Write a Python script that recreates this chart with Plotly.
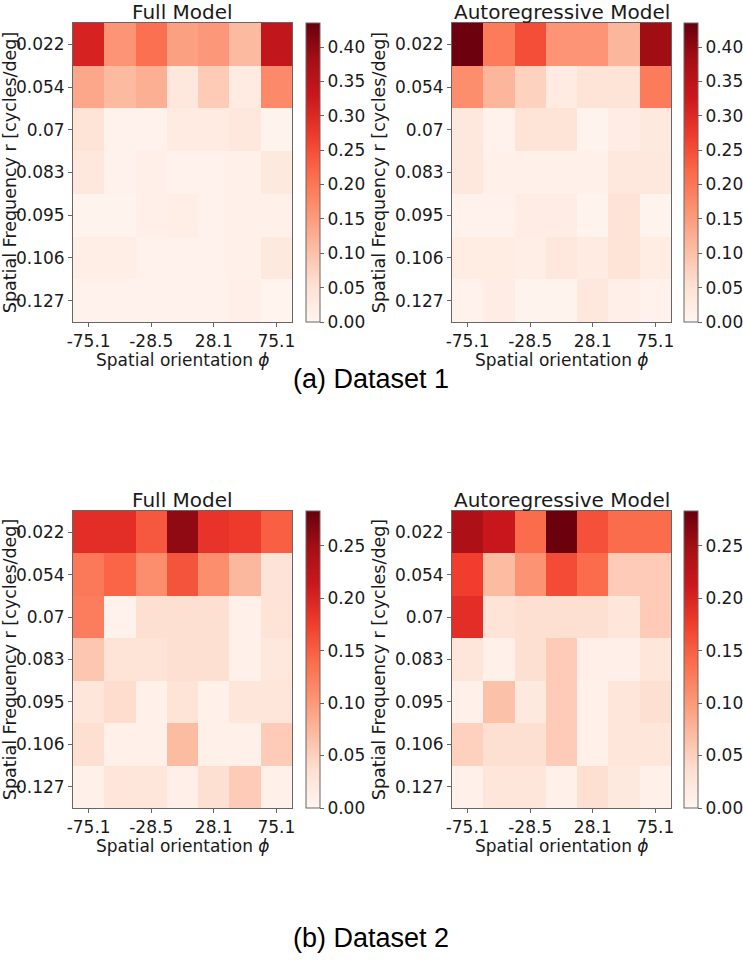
import plotly.graph_objects as go

# ---------------- data ----------------
freq_labels = ["0.022", "0.054", "0.07", "0.083", "0.095", "0.106", "0.127"]
orient_tick_labels = ["-75.1", "-28.5", "28.1", "75.1"]
orient_tick_cols = [0, 2, 4, 6]
n_orient = 7

d1_full = [
    [0.310, 0.160, 0.210, 0.145, 0.155, 0.110, 0.340],
    [0.135, 0.110, 0.125, 0.035, 0.085, 0.027, 0.175],
    [0.045, 0.008, 0.008, 0.025, 0.025, 0.035, 0.005],
    [0.035, 0.008, 0.015, 0.008, 0.008, 0.012, 0.030],
    [0.005, 0.005, 0.015, 0.018, 0.008, 0.012, 0.012],
    [0.018, 0.018, 0.008, 0.008, 0.008, 0.010, 0.030],
    [0.008, 0.008, 0.008, 0.008, 0.008, 0.015, 0.003],
]
d1_auto = [
    [0.430, 0.195, 0.250, 0.160, 0.160, 0.115, 0.385],
    [0.170, 0.115, 0.075, 0.025, 0.045, 0.045, 0.195],
    [0.035, 0.008, 0.045, 0.045, 0.005, 0.020, 0.030],
    [0.035, 0.010, 0.010, 0.010, 0.010, 0.035, 0.035],
    [0.008, 0.008, 0.020, 0.020, 0.005, 0.045, 0.005],
    [0.022, 0.022, 0.018, 0.035, 0.025, 0.045, 0.022],
    [0.008, 0.020, 0.005, 0.005, 0.035, 0.015, 0.008],
]
d2_full = [
    [0.190, 0.190, 0.155, 0.260, 0.185, 0.178, 0.150],
    [0.128, 0.145, 0.110, 0.158, 0.110, 0.073, 0.028],
    [0.125, 0.005, 0.035, 0.035, 0.035, 0.008, 0.030],
    [0.060, 0.030, 0.030, 0.035, 0.035, 0.008, 0.022],
    [0.025, 0.038, 0.008, 0.030, 0.008, 0.025, 0.025],
    [0.035, 0.008, 0.008, 0.070, 0.008, 0.008, 0.055],
    [0.008, 0.025, 0.025, 0.010, 0.035, 0.055, 0.008],
]
d2_auto = [
    [0.240, 0.215, 0.140, 0.280, 0.160, 0.140, 0.140],
    [0.175, 0.070, 0.105, 0.165, 0.140, 0.055, 0.055],
    [0.190, 0.030, 0.035, 0.035, 0.035, 0.025, 0.055],
    [0.025, 0.008, 0.035, 0.055, 0.010, 0.010, 0.025],
    [0.008, 0.065, 0.020, 0.055, 0.008, 0.025, 0.035],
    [0.050, 0.035, 0.035, 0.055, 0.008, 0.025, 0.025],
    [0.008, 0.025, 0.025, 0.008, 0.035, 0.020, 0.008],
]
zmax_d1 = 0.435
zmax_d2 = 0.283
cbar_ticks_d1 = [0.00, 0.05, 0.10, 0.15, 0.20, 0.25, 0.30, 0.35, 0.40]
cbar_ticks_d2 = [0.00, 0.05, 0.10, 0.15, 0.20, 0.25]

reds = [
    [0.0, "rgb(255,245,240)"], [0.125, "rgb(254,224,210)"], [0.25, "rgb(252,187,161)"],
    [0.375, "rgb(252,146,114)"], [0.5, "rgb(251,106,74)"], [0.625, "rgb(239,59,44)"],
    [0.75, "rgb(203,24,29)"], [0.875, "rgb(165,15,21)"], [1.0, "rgb(103,0,13)"],
]

W, H = 743, 960
TXT = "#1a1a1a"
FRAME = "#666666"
FONT = "DejaVu Sans"

fig = go.Figure()

panels = [
    # (z, zmax, ticks, x0, x1, y0, y1, cbar_x0, title)
    (d1_full, zmax_d1, cbar_ticks_d1, 73, 292, 23, 322, 306, "Full Model"),
    (d1_auto, zmax_d1, cbar_ticks_d1, 452, 671, 23, 322, 684, "Autoregressive Model"),
    (d2_full, zmax_d2, cbar_ticks_d2, 73, 292, 511, 808, 306, "Full Model"),
    (d2_auto, zmax_d2, cbar_ticks_d2, 452, 671, 511, 808, 684, "Autoregressive Model"),
]

annotations = []
for i, (z, zmax, cticks, x0, x1, y0, y1, cx, title) in enumerate(panels):
    k = "" if i == 0 else str(i + 1)
    fig.add_trace(go.Heatmap(
        z=z, x=list(range(n_orient)), y=list(range(len(freq_labels))),
        zmin=0, zmax=zmax, colorscale=reds, xgap=0, ygap=0,
        xaxis="x" + k, yaxis="y" + k,
        colorbar=dict(
            x=cx / W, xanchor="left", thickness=14, xpad=0, ypad=0,
            lenmode="pixels", len=y1 - y0,
            y=1 - (y0 + y1) / 2 / H, yanchor="middle",
            tickvals=cticks, ticktext=["%.2f" % t for t in cticks],
            ticks="outside", ticklen=4, tickcolor=FRAME,
            outlinecolor=FRAME, outlinewidth=1,
            tickfont=dict(family=FONT, size=17, color=TXT),
        ),
    ))
    fig.layout["xaxis" + k] = dict(
        domain=[x0 / W, x1 / W], anchor="y" + k, range=[-0.5, 6.5],
        tickvals=orient_tick_cols, ticktext=orient_tick_labels,
        ticks="outside", ticklen=4, tickcolor=FRAME, ticklabelstandoff=0,
        showline=True, mirror=True, linecolor=FRAME, linewidth=1,
        showgrid=False, zeroline=False,
        tickfont=dict(family=FONT, size=17, color=TXT),
    )
    fig.layout["yaxis" + k] = dict(
        domain=[1 - y1 / H, 1 - y0 / H], anchor="x" + k, range=[6.5, -0.5],
        tickvals=list(range(len(freq_labels))), ticktext=freq_labels,
        ticks="outside", ticklen=4, tickcolor=FRAME,
        showline=True, mirror=True, linecolor=FRAME, linewidth=1,
        showgrid=False, zeroline=False,
        tickfont=dict(family=FONT, size=17, color=TXT),
        title=dict(text="Spatial Frequency r [cycles/deg]", standoff=4,
                   font=dict(family=FONT, size=17.5, color=TXT)),
    )
    annotations.append(dict(
        text=title, x=(x0 + x1) / 2 / W, y=1 - (y0 - 11) / H,
        xref="paper", yref="paper", xanchor="center", yanchor="middle",
        showarrow=False, font=dict(family=FONT, size=20, color=TXT),
    ))
    annotations.append(dict(
        text="Spatial orientation <i>ϕ</i>", x=(x0 + x1) / 2 / W, y=1 - (y1 + 38) / H,
        xref="paper", yref="paper", xanchor="center", yanchor="middle",
        showarrow=False, font=dict(family=FONT, size=17, color=TXT),
    ))

annotations.append(dict(
    text="(a) Dataset 1", x=371 / W, y=1 - 379 / H, xref="paper", yref="paper",
    xanchor="center", yanchor="middle", showarrow=False,
    font=dict(family="Liberation Sans", size=27, color="#000000"),
))
annotations.append(dict(
    text="(b) Dataset 2", x=371 / W, y=1 - 938 / H, xref="paper", yref="paper",
    xanchor="center", yanchor="middle", showarrow=False,
    font=dict(family="Liberation Sans", size=27, color="#000000"),
))

fig.update_layout(
    width=W, height=H,
    margin=dict(l=0, r=0, t=0, b=0, autoexpand=False),
    paper_bgcolor="white", plot_bgcolor="white",
    annotations=annotations,
    font=dict(family=FONT, color=TXT),
)

fig.write_html(
    "out.html",
    config={"displayModeBar": False},
    post_script="document.body.style.margin='0';document.body.style.overflow='hidden';",
)
